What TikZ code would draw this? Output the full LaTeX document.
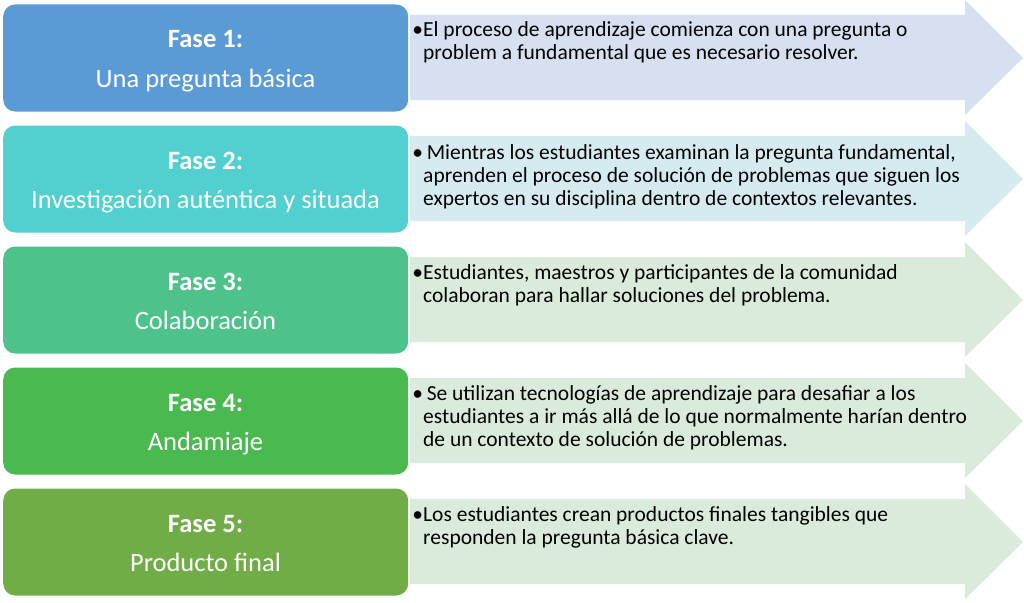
\documentclass[tikz,border=0pt]{standalone}
\usepackage{fontspec}
\setmainfont{Carlito}
\definecolor{c1}{HTML}{5B9BD5}
\definecolor{c2}{HTML}{52CFCF}
\definecolor{c3}{HTML}{4DC38B}
\definecolor{c4}{HTML}{4AB94F}
\definecolor{c5}{HTML}{70AD47}
\definecolor{a1}{HTML}{D6E0F1}
\definecolor{a2}{HTML}{D6EBF0}
\definecolor{a3}{HTML}{DAEADB}
\begin{document}
\begin{tikzpicture}[x=1pt,y=-1pt,
 phase/.style={rounded corners=12pt, minimum width=405pt, minimum height=107pt, inner sep=0pt, anchor=west},
 ptitle/.style={text=white, font=\fontsize{26.5}{30}\selectfont\bfseries, anchor=base, inner sep=0pt},
 psub/.style={text=white, font=\fontsize{26.5}{30}\selectfont, anchor=base, inner sep=0pt},
 desc/.style={font=\fontsize{21.5}{23}\selectfont, anchor=north west, align=left, inner sep=0pt}]
\useasboundingbox (0,0) rectangle (1024,602);
\newcommand\arrowrow[2]{%
  \fill[#2] (410,#1-43) -- (965,#1-43) -- (965,#1-58) -- (1023,#1) -- (965,#1+57) -- (965,#1+42) -- (410,#1+42) -- cycle;}
\arrowrow{58}{a1}
\arrowrow{179}{a2}
\arrowrow{300}{a3}
\arrowrow{421}{a3}
\arrowrow{542}{a3}
% phase boxes
\node[phase, fill=c1] (p1) at (3,58) {};
\node[phase, fill=c2] (p2) at (3,179) {};
\node[phase, fill=c3] (p3) at (3,300) {};
\node[phase, fill=c4] (p4) at (3,421) {};
\node[phase, fill=c5] (p5) at (3,542) {};
\node[ptitle] (t1) at (205.5,48) {Fase 1:};
\node[psub]   (s1) at (205.5,87) {Una pregunta básica};
\node[ptitle] (t2) at (205.5,169) {Fase 2:};
\node[psub]   (s2) at (205.5,208) {Investigación auténtica y situada};
\node[ptitle] (t3) at (205.5,290) {Fase 3:};
\node[psub]   (s3) at (205.5,329) {Colaboración};
\node[ptitle] (t4) at (205.5,411) {Fase 4:};
\node[psub]   (s4) at (205.5,450) {Andamiaje};
\node[ptitle] (t5) at (205.5,532) {Fase 5:};
\node[psub]   (s5) at (205.5,571) {Producto final};
% descriptions
\node[desc] (d1) at (423,20.4) {\strut\llap{•}El proceso de aprendizaje comienza con una pregunta o\\problem a fundamental que es necesario resolver.};
\node[desc] (d2) at (423,143.4) {\strut\llap{•}\,Mientras los estudiantes examinan la pregunta fundamental,\\aprenden el proceso de solución de problemas que siguen los\\expertos en su disciplina dentro de contextos relevantes.};
\node[desc] (d3) at (423,262.9) {\strut\llap{•}Estudiantes, maestros y participantes de la comunidad\\colaboran para hallar soluciones del problema.};
\node[desc] (d4) at (423,384.4) {\strut\llap{•}\,Se utilizan tecnologías de aprendizaje para desafiar a los\\estudiantes a ir más allá de lo que normalmente harían dentro\\de un contexto de solución de problemas.};
\node[desc] (d5) at (423,504.9) {\strut\llap{•}Los estudiantes crean productos finales tangibles que\\responden la pregunta básica clave.};
\end{tikzpicture}
\end{document}
